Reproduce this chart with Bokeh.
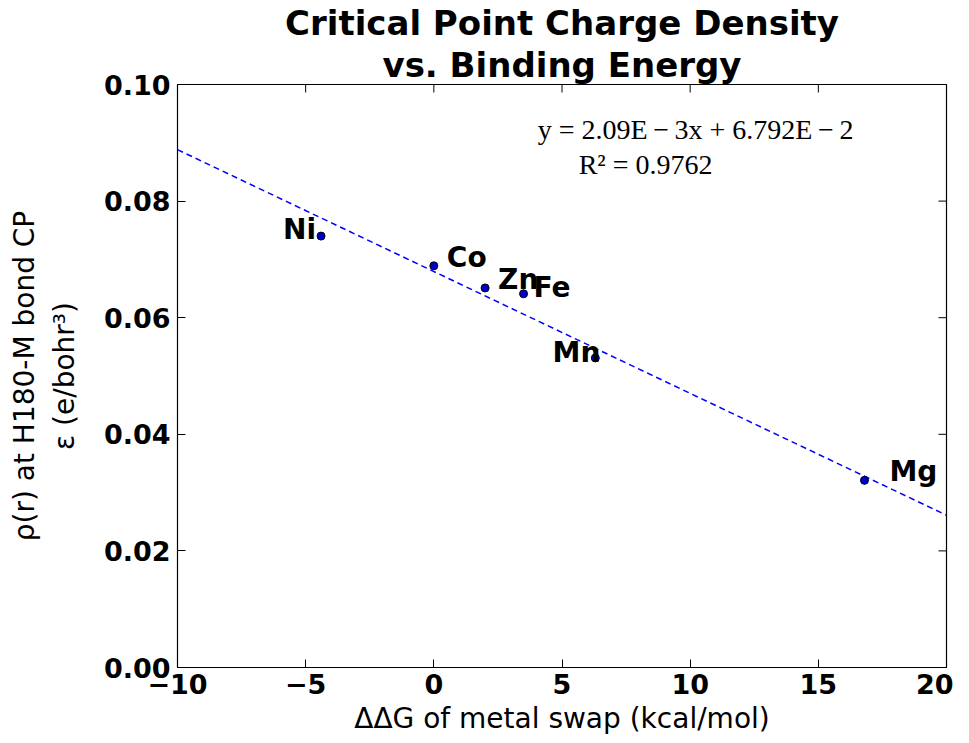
import math
from bokeh.plotting import figure
from bokeh.models import ColumnDataSource, FixedTicker, Range1d, Label, LabelSet, Title
from bokeh.embed import file_html
from bokeh.resources import INLINE
from bokeh.core.properties import value

# ---- data ----
metals = ["Ni", "Co", "Zn", "Fe", "Mn", "Mg"]
ddg = [-4.4, 0.0, 2.0, 3.5, 6.3, 16.8]
rho = [0.0740, 0.0689, 0.0651, 0.0641, 0.0531, 0.0321]
fit_slope = -2.09e-3
fit_intercept = 6.792e-2
fit_x = [-10, 20]
x_ticks = [-10, -5, 0, 5, 10, 15, 20]
x_tick_labels = ["\u221210", "\u22125", "0", "5", "10", "15", "20"]
y_ticks = [0.0, 0.02, 0.04, 0.06, 0.08, 0.10]
y_tick_labels = ["0.00", "0.02", "0.04", "0.06", "0.08", "0.10"]

# label placement (styling)
lab_dx = [-5, 13, 13, 10, 5, 25]
lab_dy = [-3, -1, -1, -3, -4, -1]
lab_align = ["right", "left", "left", "left", "right", "left"]

FONT = "DejaVu Sans"

p = figure(width=953, height=727, output_backend="svg", toolbar_location=None,
           title=None,
           x_range=Range1d(-10, 20), y_range=Range1d(0, 0.1),
           frame_width=769, frame_height=583,
           min_border_left=177, min_border_right=7, min_border_top=77, min_border_bottom=67)

# two-line title (second line added first: closest to the frame)
t2 = Title(text="vs. Binding Energy", align="center", text_font=FONT, text_font_size="34px",
           text_font_style="bold", text_color="black", standoff=0, offset=0)
t1 = Title(text="Critical Point Charge Density", align="center", text_font=FONT,
           text_font_size="34px", text_font_style="bold", text_color="black",
           standoff=0, offset=0, text_line_height=0.8)
p.add_layout(t2, "above")
p.add_layout(t1, "above")

p.xgrid.visible = False
p.ygrid.visible = False
p.outline_line_color = "black"
p.outline_line_width = 1.2
p.background_fill_color = "white"
p.border_fill_color = "white"

def style_axis(ax, ticks, labels, standoff):
    ax.ticker = FixedTicker(ticks=ticks)
    ax.major_label_overrides = {t: l for t, l in zip(ticks, labels)}
    ax.major_tick_in = 8
    ax.major_tick_out = 0
    ax.minor_tick_in = 0
    ax.minor_tick_out = 0
    ax.axis_line_color = "black"
    ax.major_tick_line_color = "black"
    ax.major_label_text_font = FONT
    ax.major_label_text_font_style = "bold"
    ax.major_label_text_font_size = "27px"
    ax.major_label_text_color = "black"
    ax.major_label_standoff = standoff

style_axis(p.xaxis[0], x_ticks, x_tick_labels, 6)
style_axis(p.yaxis[0], y_ticks, y_tick_labels, 7)

p.xaxis[0].axis_label = "\u0394\u0394G of metal swap (kcal/mol)"
p.yaxis[0].axis_label = "\u03c1(r) at H180-M bond CP\n\u03b5 (e/bohr\u00b3)"
for ax, so, fs in ((p.xaxis[0], 5, "28px"), (p.yaxis[0], 20, "28px")):
    ax.axis_label_text_font = FONT
    ax.axis_label_text_font_style = "normal"
    ax.axis_label_text_font_size = fs
    ax.axis_label_text_color = "black"
    ax.axis_label_standoff = so

# inward ticks on the top and right frame edges
p.ray(x=x_ticks, y=[0.1] * len(x_ticks), length=8, length_units="screen",
      angle=-math.pi / 2, line_color="black", line_width=1)
p.ray(x=[20] * len(y_ticks), y=y_ticks, length=8, length_units="screen",
      angle=math.pi, line_color="black", line_width=1)

# fit line
fit_y = [fit_slope * x + fit_intercept for x in fit_x]
p.line(fit_x, fit_y, line_color="blue", line_dash="6 4", line_width=1.5)

# points
src = ColumnDataSource(dict(x=ddg, y=rho, name=metals, dx=lab_dx, dy=lab_dy, align=lab_align))
p.scatter("x", "y", source=src, size=8, fill_color="#0000cc", line_color="black", line_width=1)

labels = LabelSet(x="x", y="y", text="name", source=src, x_offset="dx", y_offset="dy",
                  text_align="align", text_baseline="alphabetic",
                  text_font=value(FONT), text_font_style="bold", text_font_size="28px",
                  text_color="black")
p.add_layout(labels)

# equation text
eq1 = Label(x=4.05, y=0.0923, text="y = 2.09E\u2009\u2212\u20093x + 6.792E\u2009\u2212\u20092",
            text_align="left", text_baseline="middle",
            text_font="Liberation Serif", text_font_style="normal",
            text_font_size="28px", text_color="black")
eq2 = Label(x=5.65, y=0.0863, text="R\u00b2  = 0.9762",
            text_align="left", text_baseline="middle",
            text_font="Liberation Serif", text_font_style="normal",
            text_font_size="28px", text_color="black")
p.add_layout(eq1)
p.add_layout(eq2)

open("out.html", "w").write(file_html(p, INLINE))
